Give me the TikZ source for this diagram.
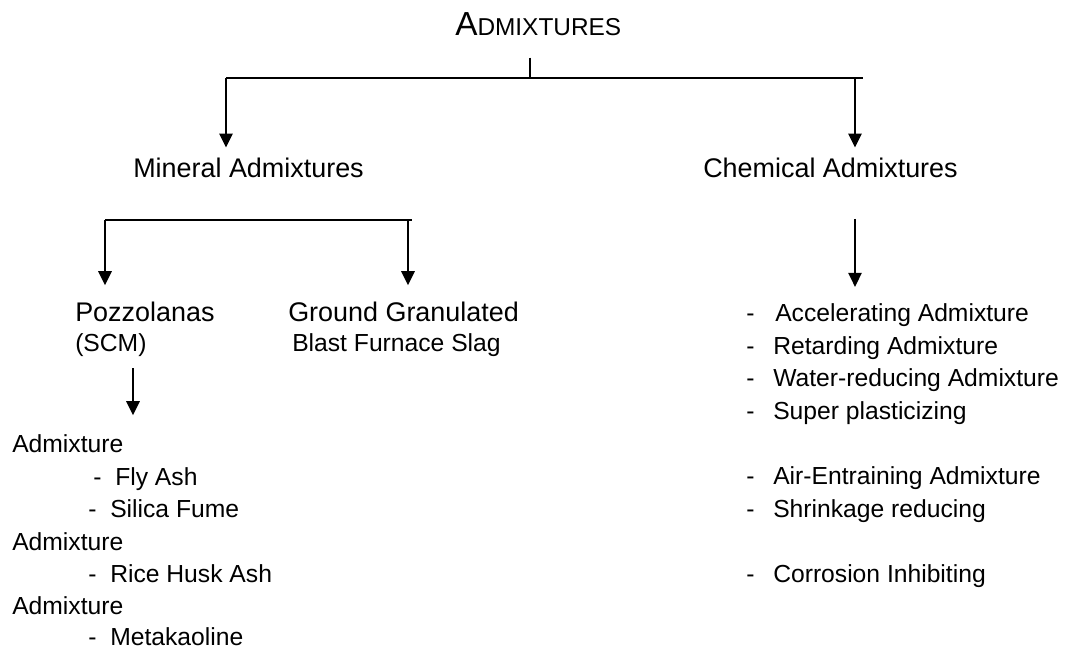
\documentclass[tikz,border=0pt]{standalone}
\usepackage{fontspec}
\setmainfont{Liberation Sans}
\usetikzlibrary{arrows.meta,positioning}

\begin{document}
\begin{tikzpicture}[
	x=0.75pt,y=-0.75pt,
	>={Triangle[length=10.5pt,width=10pt]},
	link/.style={line width=1.4pt},
	arr/.style={link,->},
	head/.style={inner sep=0pt,anchor=base west,font=\fontsize{20.2}{24}\selectfont},
	item/.style={inner sep=0pt,anchor=base west,font=\fontsize{18.5}{22}\selectfont}
	]
	\useasboundingbox (0,0) rectangle (1065,649);

	% title and first split
	\node[inner sep=0pt,anchor=base west] (adm) at (455,36)
		{{\fontsize{25}{30}\selectfont A}{\fontsize{18.3}{22}\selectfont DMIXTURES}};
	\coordinate (top)  at (530,78);
	\coordinate (topL) at (226,78);
	\coordinate (topC) at (855,78);
	\coordinate (topR) at (863,78);

	\node[head] (mineral)  at (133,178) {Mineral Admixtures};
	\node[head] (chemical) at (703,178) {Chemical Admixtures};

	\draw[link,shorten <=15.75pt] (adm.south -| top) -- (top);
	\draw[link] (topL) -- (topR);
	\draw[arr,shorten >=8pt] (topL) -- (topL |- mineral.north);
	\draw[arr,shorten >=8pt] (topC) -- (topC |- mineral.north);

	% mineral side
	\coordinate (mjL) at (105,220);
	\coordinate (mjG) at (408,220);
	\coordinate (mjR) at (412,220);

	\node[head] (pozz) at (75,321)  {Pozzolanas};
	\node[item] (scm)  at (75,352)  {(SCM)};
	\node[head] (ggbs) at (288,321) {Ground Granulated};
	\node[item] (bfs)  at (292,352) {Blast Furnace Slag};

	\draw[link] (mjL) -- (mjR);
	\draw[arr,shorten >=12pt] (mjL) -- (mjL |- pozz.north);
	\draw[arr,shorten >=12pt] (mjG) -- (mjG |- ggbs.north);

	\coordinate (pzA) at (133,368);
	\node[item] (adm1) at (12,452)  {Admixture};
	\node[item] (d1)   at (93,485)  {-};
	\node[item] (fly)  at (115,485) {Fly Ash};
	\node[item] (d2)   at (88,517)  {-};
	\node[item] (sil)  at (110,517) {Silica Fume};
	\node[item] (adm2) at (12,550)  {Admixture};
	\node[item] (d3)   at (88,582)  {-};
	\node[item] (rice) at (110,582) {Rice Husk Ash};
	\node[item] (adm3) at (12,614)  {Admixture};
	\node[item] (d4)   at (88,645)  {-};
	\node[item] (meta) at (110,645) {Metakaoline};

	\draw[arr,shorten <=8pt,shorten >=14pt] (scm.south -| pzA) -- (pzA |- adm1.north);

	% chemical side
	\coordinate (cjA) at (855,219);
	\node[item] (c1) at (775,322) {Accelerating Admixture};
	\node[item] (c2) at (773,354) {Retarding Admixture};
	\node[item] (c3) at (773,387) {Water-reducing Admixture};
	\node[item] (c4) at (773,419) {Super plasticizing};
	\node[item] (c5) at (773,484) {Air-Entraining Admixture};
	\node[item] (c6) at (773,517) {Shrinkage reducing};
	\node[item] (c7) at (773,582) {Corrosion Inhibiting};
	\node[item] (e1) at (746,322) {-};
	\node[item] (e2) at (746,354) {-};
	\node[item] (e3) at (746,387) {-};
	\node[item] (e4) at (746,419) {-};
	\node[item] (e5) at (746,484) {-};
	\node[item] (e6) at (746,517) {-};
	\node[item] (e7) at (746,582) {-};

	\draw[arr,shorten >=12.75pt] (cjA) -- (cjA |- c1.north);
\end{tikzpicture}
\end{document}
